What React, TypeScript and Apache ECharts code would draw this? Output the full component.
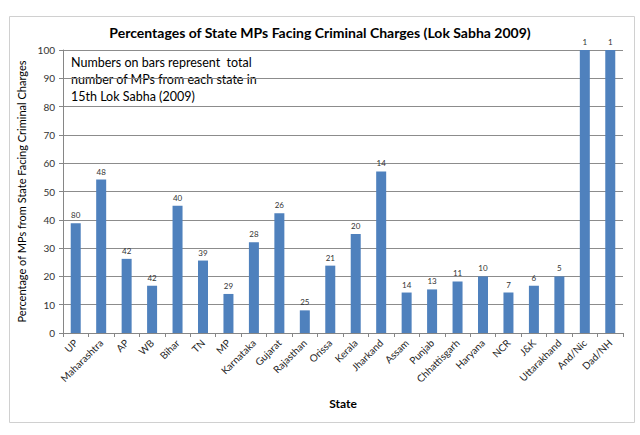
import { useEffect, useRef } from "react";
import * as echarts from "echarts";

const states = [
  "UP", "Maharashtra", "AP", "WB", "Bihar", "TN", "MP", "Karnataka", "Gujarat", "Rajasthan", "Orissa",
  "Kerala", "Jharkand", "Assam", "Punjab", "Chhattisgarh", "Haryana", "NCR", "J&K", "Uttarakhand", "And/Nic", "Dad/NH"
];
const percentages = [
  38.8, 54.2, 26.2, 16.7, 45, 25.6, 13.8, 32.1, 42.3, 8, 23.8,
  35, 57.1, 14.3, 15.4, 18.2, 20, 14.3, 16.7, 20, 100, 100
];
const totalMPs = [80, 48, 42, 42, 40, 39, 29, 28, 26, 25, 21, 20, 14, 14, 13, 11, 10, 7, 6, 5, 1, 1];
const noteLines = [
  "Numbers on bars represent  total",
  "number of MPs from each state in",
  "15th Lok Sabha (2009)"
];

const FONT = "Lato, 'Noto Sans', sans-serif";

export default function App() {
  const chartRef = useRef<HTMLDivElement>(null);

  useEffect(() => {
    document.body.style.margin = "0";
    if (!chartRef.current) return;
    const chart = echarts.init(chartRef.current, null, { renderer: "svg" });

    const option = {
      animation: false,
      backgroundColor: "#ffffff",
      textStyle: { fontFamily: FONT },
      title: {
        text: "Percentages of State MPs Facing Criminal Charges (Lok Sabha 2009)",
        left: "center",
        top: 20,
        textStyle: { fontFamily: FONT, fontSize: 14, fontWeight: "bold", color: "#000" }
      },
      grid: { left: 63, right: 17, top: 50, bottom: 102 },
      xAxis: {
        type: "category",
        data: states,
        name: "State",
        nameLocation: "middle",
        nameGap: 64,
        nameTextStyle: { fontFamily: FONT, fontSize: 12, fontWeight: "bold", color: "#000" },
        axisLine: { lineStyle: { color: "#868686" } },
        axisTick: { show: true, length: 4, lineStyle: { color: "#868686" } },
        axisLabel: { rotate: 45, fontSize: 10, color: "#262626", margin: 8, interval: 0 }
      },
      yAxis: {
        type: "value",
        min: 0,
        max: 100,
        interval: 10,
        name: "Percentage of MPs from State Facing Criminal Charges",
        nameLocation: "middle",
        nameGap: 36,
        nameTextStyle: { fontFamily: FONT, fontSize: 11, color: "#000" },
        axisLine: { show: true, lineStyle: { color: "#868686" } },
        axisTick: { show: true, length: 4, lineStyle: { color: "#868686" } },
        axisLabel: { fontSize: 10, color: "#333", margin: 8 },
        splitLine: { lineStyle: { color: "#8c8c8c", width: 1 } }
      },
      series: [
        {
          type: "bar",
          data: percentages.map((v, i) => ({ value: v, label: { formatter: String(totalMPs[i]) } })),
          barWidth: 10,
          itemStyle: { color: "#4F81BD" },
          label: {
            show: true,
            position: "top",
            distance: 4,
            fontSize: 8,
            color: "#333"
          }
        }
      ],
      graphic: [
        {
          type: "rect",
          left: 7,
          top: 14,
          shape: { width: 625, height: 406 },
          style: { fill: "none", stroke: "#d0d0d0", lineWidth: 1 },
          silent: true,
          z: -1
        },
        ...noteLines.map((t, i) => ({
          type: "text",
          left: 71,
          top: 56 + i * 17,
          style: { text: t, fontFamily: FONT, fontSize: 12.5, fill: "#000" }
        }))
      ]
    };

    chart.setOption(option);
    return () => chart.dispose();
  }, []);

  return <div ref={chartRef} style={{ width: 640, height: 435 }} />;
}
